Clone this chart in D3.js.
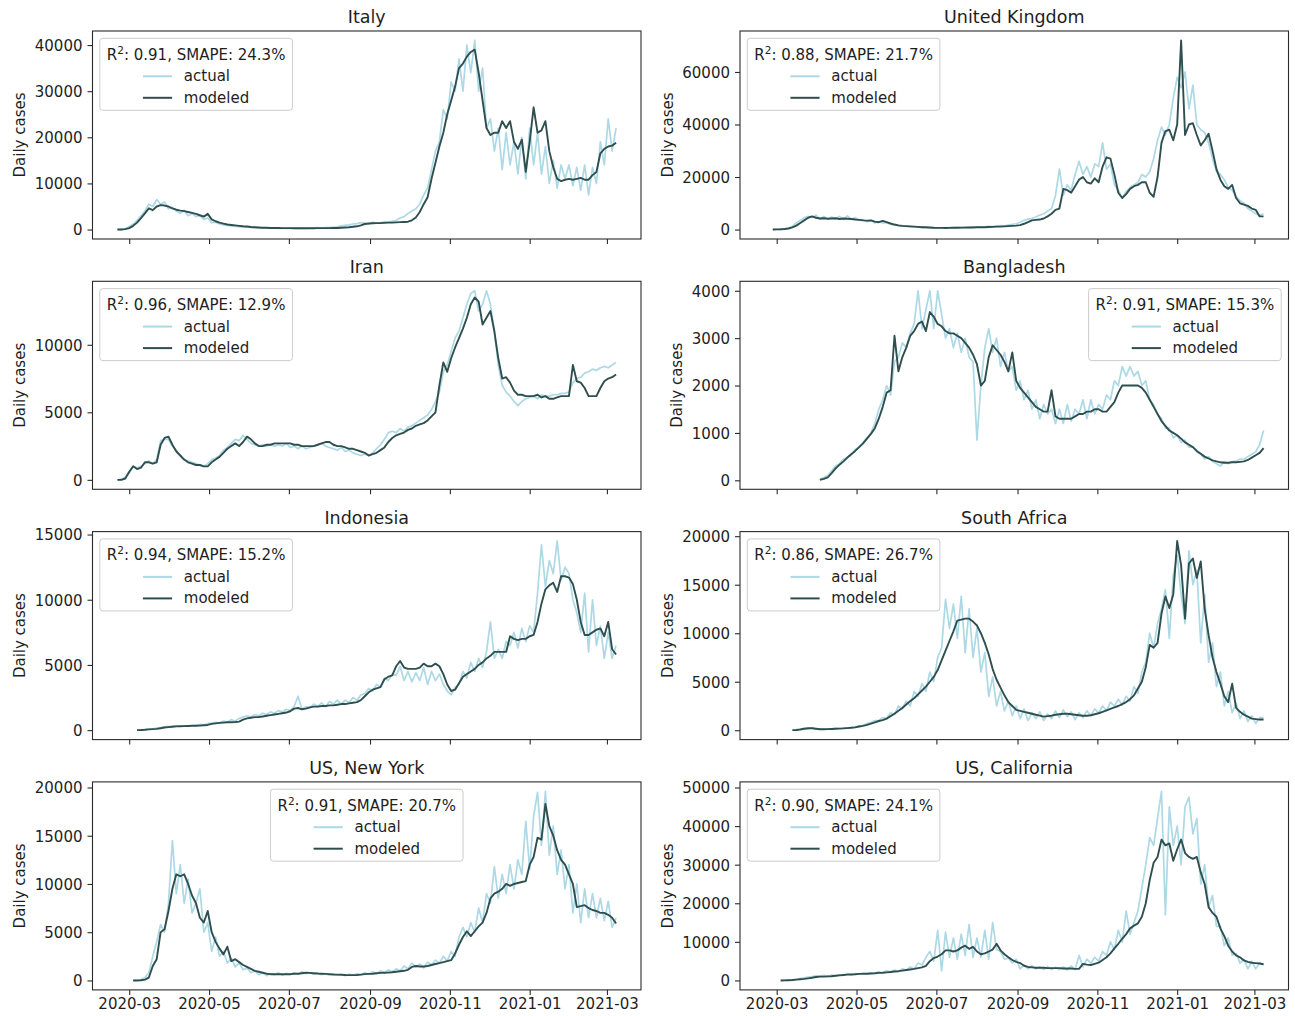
<!DOCTYPE html>
<html>
<head>
<meta charset="utf-8">
<script src="https://cdn.jsdelivr.net/npm/d3@7"></script>
<style>
  body { margin: 0; background: #fff; }
  svg text { font-family: "DejaVu Sans", sans-serif; fill: #1e1e1e; }
</style>
</head>
<body>
<svg id="chart" width="1295" height="1016"></svg>
<script>
// ---- panel metadata ----
const regions = ["Italy", "United Kingdom", "Iran", "Bangladesh", "Indonesia", "South Africa", "US, New York", "US, California"];
const r2Scores = ["0.91", "0.88", "0.96", "0.91", "0.94", "0.86", "0.91", "0.90"];
const smapeScores = ["24.3", "21.7", "12.9", "15.3", "15.2", "26.7", "20.7", "24.1"];
const legendLoc = ["upper left", "upper left", "upper left", "upper right", "upper left", "upper left", "upper center", "upper left"];
// first sampled date of each region's series; values are sampled every stepDays
const seriesStart = ["2020-02-21", "2020-02-27", "2020-02-21", "2020-04-03", "2020-03-07", "2020-03-13", "2020-03-04", "2020-03-04"];
const stepDays = 3;
const yTicks = [
  [0, 10000, 20000, 30000, 40000],
  [0, 20000, 40000, 60000],
  [0, 5000, 10000],
  [0, 1000, 2000, 3000, 4000],
  [0, 5000, 10000, 15000],
  [0, 5000, 10000, 15000, 20000],
  [0, 5000, 10000, 15000, 20000],
  [0, 10000, 20000, 30000, 40000, 50000]
];
const xTickLabels = ["2020-03", "2020-05", "2020-07", "2020-09", "2020-11", "2021-01", "2021-03"];

// ---- daily cases, sampled every 3 days ----
const italyActual = [
  0, 20, 200, 600, 1200, 2000, 3000, 4000, 5500, 5000,
  6500, 5500, 6000, 4500, 4800, 4000, 3500, 4200, 3000, 3500,
  2800, 3000, 2200, 2500, 1500, 1600, 1200, 1000, 900, 800,
  700, 600, 550, 500, 450, 400, 350, 320, 300, 300,
  280, 250, 250, 250, 300, 250, 250, 300, 250, 300,
  350, 400, 350, 400, 450, 550, 600, 800, 900, 1000,
  1200, 1300, 1500, 1400, 1200, 1600, 1400, 1500, 1700, 1600,
  1800, 2000, 2500, 2800, 3500, 4000, 4500, 5500, 7500, 9000,
  13000, 17000, 19000, 26000, 24000, 32000, 30000, 37000, 30000, 40000,
  34000, 41000, 30000, 35000, 22000, 24000, 17000, 22000, 13000, 21000,
  14000, 19000, 12000, 20000, 11000, 22000, 14000, 21000, 12000, 18000,
  10000, 15000, 9000, 14000, 11000, 14000, 9500, 13500, 8500, 14000,
  7500, 13500, 10000, 19000, 14000, 24000, 17000, 22000
];
const italyModeled = [
  0, 0, 100, 300, 800, 1500, 2500, 3500, 4600, 4200,
  5000, 5300, 5200, 5000, 4600, 4300, 4100, 4000, 3800, 3600,
  3400, 3100, 2800, 3400, 2200, 1800, 1500, 1300, 1100, 1000,
  900, 800, 700, 650, 550, 500, 450, 400, 380, 350,
  330, 320, 300, 300, 300, 290, 280, 280, 280, 290,
  290, 300, 300, 300, 310, 330, 350, 400, 450, 500,
  600, 700, 900, 1200, 1300, 1350, 1400, 1400, 1450, 1500,
  1500, 1550, 1600, 1650, 1700, 2000, 2600, 3800, 5500, 7000,
  11000, 14500, 18000, 21000, 25000, 28000, 31000, 35000, 36000, 37500,
  38500, 39000, 34000, 28000, 22000, 20500, 21000, 21000, 23500, 22000,
  23500, 19000, 17500, 19500, 12500, 19000, 26500, 21000, 21500, 23500,
  17000, 13500, 11000, 10500, 10800, 11000, 10800, 11000, 11200, 10800,
  10800, 11800, 12500, 16500, 17500, 18000, 18200, 18800
];
const ukActual = [
  0, 50, 100, 300, 600, 1200, 2500, 3500, 4500, 5000,
  4500, 5500, 4000, 5000, 4000, 4800, 4000, 5000, 3800, 5200,
  4000, 4500, 3500, 3800, 3000, 3500, 2500, 3000, 2500, 2600,
  2000, 1800, 1500, 1400, 1200, 1100, 1000, 900, 800, 700,
  650, 600, 600, 650, 700, 750, 700, 800, 750, 900,
  800, 1000, 900, 1000, 1000, 1200, 1100, 1300, 1500, 1400,
  1700, 2000, 2200, 2800, 3500, 4000, 4200, 4800, 5500, 6000,
  7000, 8000, 13000, 23000, 13000, 17000, 15000, 21000, 26000, 21000,
  24000, 20000, 25000, 24000, 33000, 23000, 25000, 17000, 15000, 12000,
  14500, 16000, 17000, 18000, 21000, 20000, 22000, 27000, 34000, 39000,
  36000, 40000, 50000, 58000, 54000, 60000, 46000, 55000, 40000, 38000,
  37000, 33000, 27000, 22000, 21000, 19000, 16000, 15000, 12500, 11000,
  10000, 8000, 7000, 6000, 5500, 6000
];
const ukModeled = [
  0, 50, 100, 200, 400, 800, 1500, 2500, 3500, 4500,
  5000, 4500, 4200, 4300, 4100, 4200, 4300, 4000, 4200, 4100,
  4000, 3800, 3700, 3500, 3400, 3500, 3000, 2800, 3300, 2800,
  2300, 1900, 1600, 1400, 1300, 1200, 1100, 1000, 900, 850,
  800, 700, 650, 650, 600, 650, 700, 700, 750, 750,
  800, 800, 850, 850, 900, 950, 1000, 1100, 1100, 1200,
  1300, 1400, 1500, 1700, 2200, 2800, 3500, 3700, 3800, 4200,
  5000, 6000, 7500, 8000, 15500, 15000, 14000, 16500, 19000, 20000,
  18000, 17500, 19500, 18000, 24000, 27500, 27000, 21000, 14000, 12000,
  13500, 15500, 16500, 17000, 18000, 18000, 14000, 12500, 20000, 33000,
  37500, 38000, 34000, 40000, 72000, 36000, 40000, 40500, 36000, 32000,
  34000, 36500, 30000, 23000, 19000, 16500, 15500, 17000, 12000, 10000,
  9500, 9000, 8000, 7500, 5000, 5000
];
const iranActual = [
  0, 50, 200, 500, 1000, 900, 1000, 1200, 1400, 1200,
  1500, 2900, 3000, 3000, 2500, 2200, 1800, 1500, 1400, 1300,
  1200, 1100, 1000, 1200, 1500, 1600, 1800, 2200, 2400, 2700,
  3000, 2900, 3300, 3000, 2700, 2600, 2500, 2600, 2500, 2600,
  2500, 2600, 2500, 2700, 2400, 2500, 2300, 2500, 2300, 2400,
  2500, 2600, 2700, 2500, 2400, 2300, 2200, 2400, 2100, 2200,
  2000, 1900, 1800, 1900, 1800, 2000, 2300, 2600, 3000, 3500,
  3600, 3500, 3800, 3600, 3900, 4000, 4200, 4400, 4600, 4800,
  5200, 5800, 6500, 8000, 8500, 9500, 10500, 11000, 12000, 13000,
  13800, 14000, 12500, 13000, 14000, 13000, 11000, 8500, 7000, 6500,
  6200, 5800, 5500, 5800, 6000, 6100, 6200, 6000, 6300, 6200,
  6200, 6300, 6300, 6400, 6400, 6500, 7200, 7500, 7600, 7900,
  8000, 8200, 8100, 8300, 8400, 8300, 8500, 8700
];
const iranModeled = [
  0, 0, 100, 600, 1000, 800, 900, 1300, 1300, 1200,
  1300, 2600, 3100, 3200, 2600, 2100, 1800, 1500, 1300, 1200,
  1100, 1100, 1000, 1000, 1300, 1500, 1700, 2000, 2300, 2500,
  2700, 2500, 2800, 3200, 3000, 2700, 2500, 2500, 2600, 2600,
  2700, 2700, 2700, 2700, 2700, 2600, 2600, 2500, 2500, 2500,
  2500, 2600, 2700, 2800, 2800, 2600, 2500, 2500, 2400, 2300,
  2300, 2200, 2100, 2000, 1800, 1900, 2000, 2200, 2400, 2800,
  3100, 3300, 3400, 3500, 3700, 3800, 4000, 4100, 4200, 4400,
  4700, 5000, 7000, 8700, 8000, 9000, 9800, 10500, 11200, 12000,
  13000, 13500, 13200, 11500, 12000, 12500, 11000, 9000, 7500, 7600,
  7200, 6600, 6300, 6300, 6200, 6200, 6200, 6300, 6100, 6200,
  6000, 6000, 6100, 6200, 6200, 6200, 8500, 7300, 7200, 6800,
  6200, 6200, 6200, 6800, 7300, 7500, 7600, 7800
];
const bangladeshActual = [
  20, 60, 100, 200, 300, 350, 450, 480, 550, 650,
  700, 800, 900, 1000, 1200, 1500, 1700, 2000, 1800, 2500,
  2600, 2900, 2800, 3100, 3300, 4000, 3200, 3600, 4000, 3200,
  4000, 3500, 3000, 3200, 2800, 3100, 2700, 3000, 2600, 2500,
  850, 2000, 2800, 3200, 2700, 3000, 2400, 2700, 2300, 2400,
  1900, 2100, 1700, 1900, 1500, 1700, 1300, 1600, 1400, 1500,
  1200, 1500, 1200, 1600, 1250, 1500, 1400, 1700, 1300, 1700,
  1400, 1600, 1500, 1800, 1700, 2100, 2000, 2400, 2200, 2400,
  2200, 2300, 2000, 2100, 1700, 1600, 1400, 1300, 1100, 1100,
  900, 950, 800, 850, 700, 700, 600, 550, 450, 500,
  400, 350, 300, 400, 350, 400, 400, 450, 450, 500,
  550, 600, 750, 1050
];
const bangladeshModeled = [
  10, 30, 60, 150, 250, 330, 400, 480, 550, 620,
  700, 780, 880, 980, 1100, 1300, 1550, 1850, 1900, 3050,
  2300, 2600, 2800, 3050, 3150, 3300, 3350, 3150, 3550, 3450,
  3300, 3250, 3150, 3100, 3100, 3050, 3000, 2900, 2800, 2650,
  2450, 2000, 2100, 2600, 2850, 2750, 2650, 2500, 2300, 2700,
  2100, 1950, 1850, 1750, 1650, 1550, 1500, 1450, 1450, 1900,
  1350, 1300, 1300, 1300, 1300, 1350, 1400, 1400, 1450, 1450,
  1500, 1500, 1450, 1450, 1550, 1650, 1850, 2000, 2000, 2000,
  2000, 2000, 1950, 1850, 1700, 1550, 1400, 1250, 1150, 1050,
  1000, 950, 880, 800, 750, 700, 620, 560, 500, 460,
  420, 400, 380, 370, 370, 380, 380, 390, 400, 430,
  480, 530, 580, 680
];
const indonesiaActual = [
  0, 20, 50, 80, 100, 150, 200, 250, 300, 300,
  350, 300, 350, 300, 400, 350, 450, 400, 500, 550,
  600, 550, 700, 600, 800, 700, 900, 1000, 1100, 1000,
  1200, 1100, 1300, 1200, 1400, 1300, 1500, 1400, 1600, 1500,
  1800, 2600, 1600, 1800, 1700, 2000, 1800, 2100, 1800, 2200,
  2000, 2300, 2000, 2300, 2100, 2500, 2300, 2700, 2800, 3200,
  3000, 3500, 3300, 4000, 3800, 4300, 4200, 4900, 3800, 4500,
  3700, 4400, 3800, 4800, 3500, 4500, 3800, 4300, 3500, 3000,
  2700, 3300, 3500, 4500, 4000, 5200, 4500, 5500, 4800, 6000,
  8300, 5500, 6200, 5500, 6800, 6500, 7500, 6300, 7800, 6800,
  8000, 7500, 10500, 14200, 11000, 13000, 12000, 14500, 11500, 12500,
  12000, 10000, 9000, 7500, 10500, 6000, 10000, 6500, 8000, 5500,
  7500, 5500, 6500
];
const indonesiaModeled = [
  0, 10, 30, 60, 80, 100, 150, 200, 230, 260,
  290, 300, 310, 320, 330, 340, 350, 380, 400, 480,
  520, 560, 580, 600, 600, 620, 650, 800, 900, 950,
  1000, 1000, 1050, 1100, 1150, 1200, 1250, 1300, 1350, 1450,
  1650, 1700, 1600, 1650, 1750, 1800, 1800, 1850, 1850, 1900,
  1900, 1950, 2000, 2000, 2050, 2100, 2150, 2300, 2600, 2900,
  3100, 3200, 3300, 3900, 4100, 4200, 4900, 5300, 4800, 4700,
  4700, 4700, 4800, 5100, 4900, 4900, 5100, 4900, 4300, 3500,
  3000, 3100, 3600, 4100, 4300, 4500, 4700, 5000, 5200, 5500,
  5700, 6000, 6000, 6000, 6000, 7200, 7000, 6900, 7000, 7000,
  7200, 7300, 8300, 9700, 10800, 11100, 11300, 10600, 11800, 11800,
  11700, 11200, 10000, 8300, 7300, 7300, 7500, 7700, 7800, 7200,
  8300, 6200, 5800
];
const southAfricaActual = [
  10, 50, 100, 200, 150, 250, 100, 150, 100, 150,
  150, 200, 180, 250, 250, 300, 350, 450, 500, 700,
  800, 1000, 1000, 1300, 1200, 1800, 1600, 2500, 2200, 3000,
  2500, 4000, 3500, 4800, 4000, 6000, 5000, 7500, 8500, 13500,
  10500, 13000, 9500, 13800, 8000, 12500, 7500, 10500, 6000, 8000,
  3500, 5500, 2500, 4000, 2000, 3000, 1500, 2500, 1200, 2200,
  1000, 1800, 1200, 1900, 1000, 1700, 1200, 2000, 1300, 2100,
  1400, 1900, 1100, 1800, 1300, 2000, 1500, 2200, 1800, 2500,
  2000, 2900, 2500, 3200, 2600, 3500, 3000, 4500, 3800, 6000,
  7000, 10000, 8500, 11000, 12500, 14500, 9500, 16000, 18000, 14000,
  11000, 18500, 15000, 16500, 9000, 14000, 7000, 9000, 4500, 6000,
  2500, 4000, 1800, 2800, 1200, 2000, 900, 1500, 700, 1300,
  1300
];
const southAfricaModeled = [
  10, 30, 80, 150, 200, 200, 150, 100, 100, 110,
  130, 150, 170, 190, 220, 250, 300, 380, 450, 550,
  680, 820, 950, 1050, 1200, 1450, 1700, 2000, 2300, 2650,
  3000, 3300, 3700, 4100, 4500, 5000, 5500, 6200, 7200, 8200,
  9200, 10200, 11300, 11400, 11500, 11500, 11200, 10800, 10000, 9000,
  7800, 6300, 5200, 4400, 3600, 2900, 2500, 2100, 2000, 1900,
  1800, 1700, 1600, 1500, 1400, 1450, 1500, 1600, 1650, 1700,
  1700, 1650, 1600, 1550, 1500, 1500, 1550, 1650, 1750, 1900,
  2050, 2200, 2350, 2500, 2700, 2900, 3200, 3600, 4300, 5000,
  6500, 8800, 8500, 9000, 12000, 13800, 12600, 14000, 19500, 17000,
  11500, 17200, 17700, 15700, 17400, 12500, 9800, 7500, 6000, 4800,
  3500, 2900, 4800, 2300, 1900, 1600, 1400, 1200, 1150, 1100,
  1100
];
const newYorkActual = [
  0, 20, 100, 300, 800, 2500, 4000, 5800, 5000, 8000,
  14500, 9000, 12000, 8000, 10500, 7000, 8000, 9500, 5000, 6000,
  3000, 4500, 2500, 3000, 1800, 2300, 1400, 1800, 1100, 1300,
  800, 1000, 600, 800, 500, 700, 600, 800, 550, 750,
  600, 800, 650, 900, 700, 800, 650, 750, 600, 700,
  550, 650, 550, 700, 500, 650, 550, 700, 600, 800,
  650, 900, 700, 1000, 800, 1100, 900, 1200, 1000, 1500,
  1200, 1800, 1400, 1700, 1300, 1900, 1600, 2100, 1800, 2500,
  2000, 3000, 2500, 4500, 5500, 4500, 6000, 5000, 7500, 6000,
  9000, 8000, 11800, 8500, 11000, 9000, 12000, 9500, 12500, 11000,
  16500, 11500, 17000, 19500, 14000, 19600, 13000, 16000, 11000, 13500,
  9500, 12000, 7000, 10000, 6000, 9500, 6500, 9000, 6500, 8500,
  6200, 8200, 5500, 6500
];
const newYorkModeled = [
  0, 0, 20, 80, 300, 1500, 2200, 5000, 5300, 7200,
  9500, 11000, 10800, 11000, 10000, 8800, 8000, 6500, 6000, 7200,
  5000, 4000, 3300, 2700, 3500, 2000, 2200, 1900, 1600, 1400,
  1200, 1000, 900, 800, 700, 650, 650, 650, 650, 650,
  650, 700, 700, 750, 800, 780, 750, 720, 700, 680,
  650, 620, 600, 580, 560, 550, 550, 570, 600, 650,
  680, 700, 750, 780, 800, 820, 850, 900, 950, 1000,
  1100, 1400, 1500, 1450, 1450, 1500, 1600, 1700, 1800, 1900,
  2000, 2100, 2800, 3700, 4500, 5100, 4600, 5100, 5600, 6000,
  7000, 8500, 9000, 9200, 9500, 10000, 9800, 10000, 10100, 10200,
  10300, 12000, 12800, 14800, 14600, 18300, 16000, 15000, 13500, 12500,
  12000, 11000, 10000, 7600, 7700, 7800, 7500, 7300, 7200, 7000,
  7000, 6800, 6500, 5900
];
const californiaActual = [
  0, 20, 80, 150, 300, 500, 700, 900, 1000, 1200,
  1100, 1300, 1000, 1400, 1200, 1500, 1300, 1800, 1500, 1800,
  1600, 2000, 1700, 2000, 1800, 2300, 2000, 2500, 2200, 2700,
  2300, 3000, 2600, 3500, 3000, 4500, 4000, 6000, 7500, 5000,
  13000, 2500, 12500, 6000, 11000, 5500, 12000, 6500, 14500, 6000,
  11000, 6000, 13000, 5500, 15000, 8000, 7500, 5500, 5800, 4500,
  5500, 3000, 4000, 3000, 3800, 3000, 3500, 2800, 3600, 2800,
  3400, 2800, 3500, 2700, 3800, 2800, 6500, 3500, 5500, 4500,
  6000, 5000, 7500, 6500, 10000, 8000, 13000, 10000, 18000, 12000,
  15000, 18000, 24000, 30000, 37000, 35000, 42000, 49000, 17000, 45000,
  35000, 40000, 30000, 45000, 47500, 38000, 42000, 25000, 30000, 19000,
  22000, 14000, 14000, 9000, 11000, 6500, 7000, 4500, 5500, 3000,
  5000, 3000, 4500, 4000
];
const californiaModeled = [
  0, 10, 50, 100, 200, 300, 400, 550, 700, 900,
  1000, 1000, 1050, 1100, 1200, 1300, 1400, 1500, 1550, 1600,
  1700, 1700, 1750, 1800, 1850, 1950, 2000, 2100, 2200, 2300,
  2400, 2550, 2700, 2850, 3000, 3200, 3400, 3800, 5000, 5800,
  6200, 6800, 7800, 7800, 7500, 7800, 8500, 9000, 8200, 8700,
  7500, 6800, 7000, 7500, 8000, 9500, 7800, 6800, 6000, 5300,
  4800, 4500, 3800, 3500, 3400, 3300, 3300, 3300, 3200, 3200,
  3200, 3200, 3100, 3100, 3100, 3000, 3000, 4300, 4100, 4000,
  4300, 4600, 5300, 6000, 7000, 8300, 9500, 10800, 12000, 13500,
  14200, 14800, 16500, 20000, 26000, 30500, 32000, 36500, 35000, 35500,
  31000, 34000, 36500, 33000, 32000, 31500, 32000, 28000, 25000, 19000,
  17500, 16500, 13500, 11500, 9000, 7500, 6500, 6000, 5200, 4800,
  4600, 4500, 4400, 4200
];

const actualSeries = [italyActual, ukActual, iranActual, bangladeshActual, indonesiaActual, southAfricaActual, newYorkActual, californiaActual];
const modeledSeries = [italyModeled, ukModeled, iranModeled, bangladeshModeled, indonesiaModeled, southAfricaModeled, newYorkModeled, californiaModeled];

// ---- styling ----
const actualColor = "#add8e6";   // lightblue
const modeledColor = "#2f4f4f";  // darkslategray
const tickFont = 15, titleFont = 17.5;

// ---- layout: 4 rows x 2 columns ----
const colLeft = [92.5, 740];
const plotW = 548.5;
const rowTop = [31, 281.3, 531.6, 781.9];
const plotH = 208;

const svg = d3.select("#chart");
svg.append("rect").attr("width", 1295).attr("height", 1016).attr("fill", "#fff");

const parseDay = d3.utcParse("%Y-%m-%d");
const parseMonth = d3.utcParse("%Y-%m");
function toPoints(values, start) {
  const s = parseDay(start);
  return values.map((v, i) => ({ date: d3.utcDay.offset(s, i * stepDays), value: v }));
}

const actualPts = actualSeries.map((v, i) => toPoints(v, seriesStart[i]));
const modeledPts = modeledSeries.map((v, i) => toPoints(v, seriesStart[i]));

// shared x range with 5% margins on each side
const allDates = actualPts.concat(modeledPts).flat().map(p => p.date);
const [dMin, dMax] = d3.extent(allDates);
const dSpan = dMax - dMin;
const xDomain = [new Date(+dMin - 0.05 * dSpan), new Date(+dMax + 0.05 * dSpan)];
const xTickDates = xTickLabels.map(s => parseMonth(s));

regions.forEach((name, i) => {
  const col = i % 2, row = Math.floor(i / 2);
  const left = colLeft[col], top = rowTop[row];
  const g = svg.append("g");

  const x = d3.scaleUtc().domain(xDomain).range([left, left + plotW]);
  const vals = actualSeries[i].concat(modeledSeries[i]);
  const vMin = d3.min(vals), vMax = d3.max(vals), vSpan = vMax - vMin;
  const y = d3.scaleLinear()
    .domain([vMin - 0.05 * vSpan, vMax + 0.05 * vSpan])
    .range([top + plotH, top]);

  // y axis
  const yAxis = g.append("g").attr("transform", `translate(${left},0)`)
    .call(d3.axisLeft(y).tickValues(yTicks[i]).tickSize(5).tickPadding(5).tickFormat(d3.format("d")));
  yAxis.select(".domain").remove();
  yAxis.selectAll(".tick line").attr("stroke", "#2a2a2a").attr("stroke-width", 1.1);
  yAxis.selectAll(".tick text").attr("font-size", tickFont).attr("font-family", "DejaVu Sans").attr("dy", "0.36em").attr("fill", "#1e1e1e");

  // x axis (labels on the bottom row only)
  const xAxis = g.append("g").attr("transform", `translate(0,${top + plotH})`)
    .call(d3.axisBottom(x).tickValues(xTickDates).tickSize(5).tickPadding(3)
      .tickFormat(row === 3 ? d3.utcFormat("%Y-%m") : () => ""));
  xAxis.select(".domain").remove();
  xAxis.selectAll(".tick line").attr("stroke", "#2a2a2a").attr("stroke-width", 1.1);
  xAxis.selectAll(".tick text").attr("font-size", tickFont).attr("font-family", "DejaVu Sans").attr("dy", "0.71em").attr("fill", "#1e1e1e");

  // y label, placed left of the widest tick label
  let maxLabelW = 0;
  yAxis.selectAll(".tick text").each(function () { maxLabelW = Math.max(maxLabelW, this.getComputedTextLength()); });
  const ylx = left - 10 - maxLabelW - 9.5;
  g.append("text")
    .attr("transform", `translate(${ylx},${top + plotH / 2}) rotate(-90)`)
    .attr("text-anchor", "middle").attr("font-size", tickFont)
    .text("Daily cases");

  // title
  g.append("text").attr("x", left + plotW / 2).attr("y", top - 8)
    .attr("text-anchor", "middle").attr("font-size", titleFont).text(name);

  // series
  const line = d3.line().x(d => x(d.date)).y(d => y(d.value));
  g.append("path").datum(actualPts[i]).attr("d", line)
    .attr("fill", "none").attr("stroke", actualColor).attr("stroke-width", 1.7).attr("stroke-linejoin", "round");
  g.append("path").datum(modeledPts[i]).attr("d", line)
    .attr("fill", "none").attr("stroke", modeledColor).attr("stroke-width", 1.9).attr("stroke-linejoin", "round");

  // frame
  g.append("rect").attr("x", left).attr("y", top).attr("width", plotW).attr("height", plotH)
    .attr("fill", "none").attr("stroke", "#2a2a2a").attr("stroke-width", 1.1);

  // legend
  const lg = g.append("g");
  const box = lg.append("rect");
  const title = lg.append("text").attr("font-size", tickFont).attr("text-anchor", "middle");
  title.append("tspan").text("R");
  title.append("tspan").attr("font-size", tickFont * 0.7).attr("dy", -6).text("2");
  title.append("tspan").attr("dy", 6).text(`: ${r2Scores[i]}, SMAPE: ${smapeScores[i]}%`);
  const tw = title.node().getComputedTextLength();
  const boxW = tw + 14, boxH = 72;
  let bx;
  if (legendLoc[i] === "upper right") bx = left + plotW - 7.3 - boxW;
  else if (legendLoc[i] === "upper center") bx = left + plotW / 2 - boxW / 2;
  else bx = left + 7.3;
  const by = top + 7.3;
  box.attr("x", bx).attr("y", by).attr("width", boxW).attr("height", boxH).attr("rx", 3)
    .attr("fill", "#fff").attr("fill-opacity", 0.8).attr("stroke", "#cccccc").attr("stroke-width", 1);
  title.attr("x", bx + boxW / 2).attr("y", by + 21.5);

  const entries = [{ label: "actual", color: actualColor }, { label: "modeled", color: modeledColor }];
  const handleLen = 29.2, handlePad = 11.7;
  const probe = lg.append("text").attr("font-size", tickFont).text("modeled");
  const textW = probe.node().getComputedTextLength();
  probe.remove();
  const hx = bx + boxW / 2 - (handleLen + handlePad + textW) / 2;
  entries.forEach((e, k) => {
    const cy = by + 38 + k * 21.5;
    lg.append("line").attr("x1", hx).attr("x2", hx + handleLen).attr("y1", cy).attr("y2", cy)
      .attr("stroke", e.color).attr("stroke-width", 2);
    lg.append("text").attr("x", hx + handleLen + handlePad).attr("y", cy).attr("dy", "0.33em")
      .attr("font-size", tickFont).text(e.label);
  });
});
</script>
</body>
</html>
